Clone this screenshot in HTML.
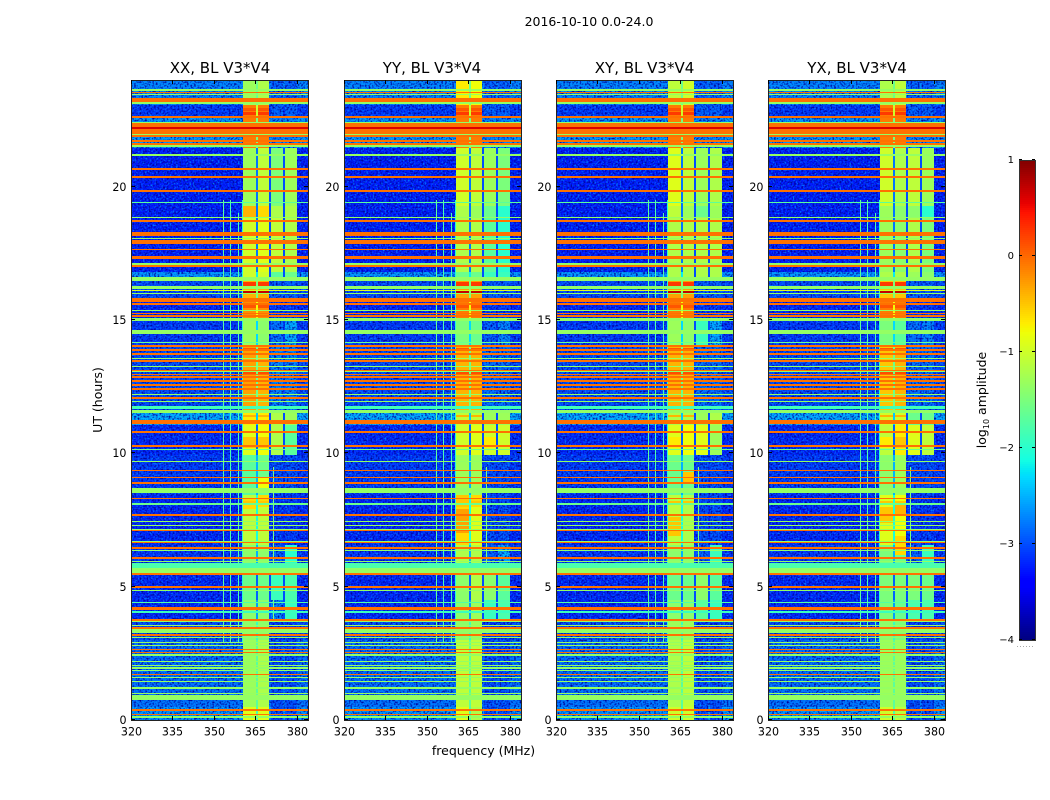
<!DOCTYPE html>
<html>
<head>
<meta charset="utf-8">
<title>2016-10-10 0.0-24.0</title>
<style>
html,body{margin:0;padding:0;background:#fff;width:1050px;height:800px;overflow:hidden}
svg{display:block}
text{font-family:"DejaVu Sans","Liberation Sans",sans-serif;fill:#000}
.cell{shape-rendering:crispEdges}
</style>
</head>
<body>
<svg id="fig" xmlns="http://www.w3.org/2000/svg" width="1050" height="800" viewBox="0 0 1050 800">
  <defs>
    <filter id="speckleLight" x="0" y="0" width="100%" height="100%" color-interpolation-filters="sRGB">
      <feTurbulence type="fractalNoise" baseFrequency="0.6" numOctaves="1" seed="4"/>
      <feColorMatrix type="matrix" values="0 0 0 0 0  0 0 0 0 0.55  0 0 0 0 1  3.2 0 0 0 -1.55"/>
    </filter>
    <filter id="speckleDark" x="0" y="0" width="100%" height="100%" color-interpolation-filters="sRGB">
      <feTurbulence type="fractalNoise" baseFrequency="0.55" numOctaves="1" seed="11"/>
      <feColorMatrix type="matrix" values="0 0 0 0 0  0 0 0 0 0  0 0 0 0 0.6  0 3.2 0 0 -1.45"/>
    </filter>
  </defs>
  <text x="589" y="26" font-size="12.5" text-anchor="middle">2016-10-10 0.0-24.0</text>
  <text x="220" y="73" font-size="15" text-anchor="middle">XX, BL V3*V4</text>
  <text x="432" y="73" font-size="15" text-anchor="middle">YY, BL V3*V4</text>
  <text x="644.5" y="73" font-size="15" text-anchor="middle">XY, BL V3*V4</text>
  <text x="857" y="73" font-size="15" text-anchor="middle">YX, BL V3*V4</text>
  <text transform="translate(102,400) rotate(-90)" font-size="12.5" text-anchor="middle">UT (hours)</text>
  <text x="483.5" y="755" font-size="12.5" text-anchor="middle">frequency (MHz)</text>
  <text transform="translate(986,400) rotate(-90)" font-size="12.5" text-anchor="middle">log<tspan font-size="8" dy="3">10</tspan><tspan dy="-3"> amplitude</tspan></text>
  <g id="panels"></g>
  <g id="colorbar"></g>
  <line x1="1017" y1="646.5" x2="1035" y2="646.5" stroke="#aaa" stroke-width="1" stroke-dasharray="1 2"/>
</svg>
<script>
// ---- axis tick labels ----
const freqTicks = [320, 335, 350, 365, 380];
const hourTicks = [0, 5, 10, 15, 20];
const colorbarTicks = [-4, -3, -2, -1, 0, 1];

// ---- time blocks (UT hours, edges) ----
const blockEdges = [0, 0.49, 3, 3.75, 4.5, 5.44, 6.56, 8.44, 9.94, 11.06, 11.63, 14.06, 15.08, 15.75, 16.58, 16.8, 18.83, 19.28, 21.45, 22.65, 23.06, 24];

// ---- log10 amplitude of the quiet background and of the gaps between bands, per block ----
const backgroundLevels = [-2.6, -2.8, -3.0, -3.2, -3.2, -3.1, -3.2, -3.1, -3.2, -2.5, -3.0, -3.1, -3.2, -3.0, -2.6, -3.25, -3.25, -3.25, -2.6, -3.1, -2.7];
const gapLevels = [-1.8, -1.7, -1.9, -2.6, -2.9, -2.5, -2.1, -2.5, -2.9, -2.4, -1.6, -2.3, -0.8, -1.5, -2.2, -2.8, -2.8, -2.8, -1.5, -1, -1.6];

// ---- band edges (MHz): A, B, C, D ----
const bandEdges = [[360.5, 365.2], [365.9, 370], [370.7, 375], [375.7, 380]];
const gapEdges = [[365.2, 365.9], [370, 370.7], [375, 375.7]];

// ---- band levels per block: [A, B, C, D] ----
const levelsXX = [[-0.9,-0.9,-3.0,-3.0],[-1.3,-1.2,-3.0,-3.0],[-1.4,-1.4,-3.1,-3.1],[-1.4,-1.4,-2.7,-1.9],[-1.6,-1.6,-1.9,-1.8],[-1.4,-1.4,-2.9,-2.0],[-1.1,-1.1,-3.1,-3.1],[-1.7,-1.6,-3.0,-3.0],[-0.9,-0.8,-1.2,-1.7],[-0.7,-0.7,-1.2,-1.3],[-0.3,-0.4,-2.7,-2.7],[-1.3,-1.4,-2.8,-2.5],[-0.2,-0.2,-3.1,-3.1],[-0.4,-0.4,-2.9,-2.9],[-1.0,-1.0,-1.7,-1.6],[-1.0,-0.9,-1.1,-1.2],[-0.4,-0.6,-1.2,-1.2],[-1.3,-1.1,-1.5,-1.3],[-0.1,-0.1,-2.7,-2.7],[-0.1,-0.1,-2.9,-2.9],[-1.3,-1.2,-2.9,-2.9]];
const levelsYY = [[-0.9,-1.2,-3.0,-3.0],[-1.1,-1.1,-3.0,-3.0],[-1.4,-1.3,-3.1,-3.1],[-1.4,-1.3,-1.9,-1.8],[-1.4,-1.2,-1.4,-1.7],[-1.2,-1.2,-2.9,-2.5],[-0.6,-0.9,-3.0,-3.0],[-1.3,-1.3,-3.0,-3.0],[-1.0,-0.9,-1.0,-1.0],[-1.1,-1.1,-1.3,-1.3],[-0.4,-0.4,-2.8,-2.8],[-1.5,-1.6,-2.9,-2.7],[-0.1,-0.1,-3.1,-3.1],[-0.3,-0.3,-2.9,-2.9],[-1.6,-1.6,-1.9,-1.9],[-1.2,-1.2,-1.7,-2.0],[-1.2,-1.3,-1.6,-2.0],[-1.0,-1.1,-1.3,-1.5],[-0.1,-0.1,-2.7,-2.7],[-0.1,-0.1,-2.9,-2.9],[-0.7,-0.8,-2.9,-2.9]];
const levelsXY = [[-1.0,-1.0,-3.0,-3.0],[-1.2,-1.1,-3.0,-3.0],[-1.3,-1.3,-3.1,-3.1],[-1.4,-1.4,-1.7,-1.9],[-1.6,-1.6,-1.4,-1.7],[-1.4,-1.4,-2.9,-1.9],[-1.1,-1.2,-3.0,-3.0],[-1.6,-1.6,-3.0,-3.0],[-0.9,-0.8,-0.9,-1.3],[-1.2,-1.2,-1.3,-1.2],[-0.4,-0.4,-2.8,-2.8],[-1.3,-1.4,-1.9,-2.5],[-0.1,-0.1,-3.1,-3.1],[-0.3,-0.3,-2.9,-2.9],[-1.2,-1.2,-1.2,-1.2],[-1.2,-1.2,-1.2,-1.2],[-1.1,-1.3,-1.6,-1.3],[-0.9,-1.1,-1.3,-1.2],[-0.1,-0.1,-2.7,-2.7],[-0.1,-0.1,-2.9,-2.9],[-1.1,-1.0,-2.9,-2.9]];
const levelsYX = [[-1.0,-1.1,-3.0,-3.0],[-1.3,-1.3,-3.0,-3.0],[-1.4,-1.5,-3.1,-3.1],[-1.5,-1.6,-1.8,-1.8],[-1.5,-1.5,-1.5,-1.6],[-1.5,-1.6,-2.9,-1.9],[-0.9,-0.8,-3.1,-3.1],[-1.4,-1.3,-3.0,-3.0],[-1.1,-0.7,-0.9,-1.1],[-1.0,-1.0,-1.6,-1.6],[-0.5,-0.4,-2.8,-2.8],[-1.5,-1.7,-2.8,-2.7],[-0.1,-0.1,-3.1,-3.1],[-0.5,-0.5,-2.9,-2.9],[-1.2,-1.2,-1.3,-1.4],[-1.3,-1.4,-1.2,-1.5],[-1.3,-1.4,-1.4,-2.0],[-1.0,-1.2,-1.1,-1.3],[-0.1,-0.1,-2.7,-2.7],[-0.1,-0.1,-2.9,-2.9],[-1.2,-1.1,-2.9,-2.9]];
const panelLevels = [levelsXX, levelsYY, levelsXY, levelsYX];

// ---- brighter patches inside a band: [band index, start hour, end hour, log10 amplitude] ----
const patchesXX = [[0,7.9,8.3,-0.6],[1,8.0,8.44,-0.6],[1,8.7,9.1,-0.8],[0,10.2,10.6,-0.5],[1,10.2,10.6,-0.5]];
const patchesYY = [[0,7.0,7.9,-0.3],[0,8.0,8.44,-0.5],[1,8.0,8.44,-0.6],[2,10.2,10.6,-0.7]];
const patchesXY = [[0,6.9,7.6,-0.5],[1,8.9,9.3,-0.5],[0,10.2,10.6,-0.7],[1,10.2,10.7,-0.8]];
const patchesYX = [[0,7.4,8.0,-0.5],[1,7.7,8.1,-0.4],[1,6.2,6.9,-0.6],[0,10.2,10.6,-0.7],[1,10.2,10.6,-0.5]];
const panelPatches = [patchesXX, patchesYY, patchesXY, patchesYX];

// ---- broadband interference stripes: [UT hour, duration hours, log10 amplitude] ----
const rfiStripes = [
[0.11,0.07,-1.35],[0.19,0.04,-0.05],[0.375,0.04,-0.05],[0.79,0.11,-1.35],[0.9,0.04,-1.35],[1.01,0.04,-1.35],[1.2,0.04,-1.35],[1.43,0.04,-1.35],[1.58,0.04,-1.35],[1.69,0.04,-0.05],[1.84,0.04,-1.35],[1.95,0.04,-1.35],[2.06,0.04,-1.35],[2.18,0.04,-1.35],
[2.45,0.07,-1.35],[2.53,0.05,-0.05],[2.63,0.04,-0.05],[2.78,0.04,-1.35],[2.89,0.04,-1.35],[3.08,0.04,-1.35],[3.19,0.05,-0.05],[3.33,0.17,-1.35],[3.45,0.04,-0.05],[3.56,0.04,-1.35],[3.68,0.04,-1.35],[3.75,0.04,-0.05],
[4.05,0.04,-1.9],[4.13,0.04,-0.05],[4.2,0.04,-0.05],[4.42,0.04,-1.75],[4.84,0.04,-1.35],[4.99,0.05,-0.05],[5.48,0.07,-0.05],[5.6,0.19,-1.35],[5.81,0.19,-1.8],[5.96,0.04,-1.35],[6.07,0.07,-0.05],[6.34,0.04,-1.35],[6.45,0.04,-0.05],[6.64,0.04,-0.05],[6.71,0.04,-1.35],
[7.09,0.04,-0.05],[7.16,0.04,-1.35],[7.28,0.04,-1.35],[7.46,0.04,-1.35],[7.69,0.05,-0.05],[8.1,0.04,-1.6],[8.29,0.04,-0.05],[8.59,0.19,-1.35],[8.9,0.08,-0.05],[9.11,0.04,-0.05],[9.34,0.04,-0.05],[9.68,0.04,-1.35],
[10.16,0.04,-1.6],[10.27,0.05,-0.05],[10.8,0.05,-0.05],[11.18,0.15,-0.05],[11.57,0.11,-1.35],[11.72,0.11,-1.85],[11.93,0.04,-1.35],[12.07,0.05,-0.05],[12.22,0.04,-1.35],[12.41,0.05,-0.05],[12.56,0.05,-0.05],[12.71,0.05,-0.05],[12.86,0.05,-0.05],[12.97,0.04,-0.05],[13.07,0.04,-1.35],[13.12,0.04,-0.05],[13.27,0.04,-1.35],[13.46,0.07,-0.05],[13.57,0.04,-1.35],[13.72,0.05,-0.05],[13.87,0.05,-0.05],[14.02,0.05,-0.05],[14.14,0.04,-1.6],
[14.55,0.15,-1.35],[15.02,0.13,-1.35],[15.15,0.04,-0.05],[15.26,0.04,-0.05],[15.34,0.04,-1.35],[15.6,0.04,-0.05],[15.75,0.15,-0.05],[16.0,0.05,-1.35],[16.09,0.04,-0.9],[16.22,0.11,-1.35],[16.54,0.15,-1.35],
[17.02,0.07,-0.05],[17.1,0.04,-1.35],[17.36,0.11,-0.05],[17.66,0.04,-0.05],[17.92,0.13,-0.05],[18.04,0.04,-1.35],[18.22,0.15,-0.05],[18.71,0.05,-0.05],[18.83,0.04,-1.35],[19.39,0.04,-1.7],[19.84,0.05,-0.05],[20.36,0.05,-0.05],[20.66,0.05,-0.05],[21.19,0.05,-1.35],
[21.53,0.11,-1.35],[21.6,0.04,-0.05],[21.71,0.05,-0.05],[22.14,0.57,-0.05],[21.97,0.04,-1.35],[22.2,0.04,0.6],[22.42,0.04,-1.35],[22.62,0.09,-0.05],[23.14,0.11,-1.35],[23.22,0.08,-0.05],[23.3,0.07,-0.05],[23.44,0.04,-1.35],[23.53,0.04,-0.05],[23.62,0.07,-1.35]
];

// ---- stripes seen only inside bands A and B: [UT hour, duration hours, log10 amplitude] ----
const bandStripes = [[8.15,0.12,-0.5],[11.4,0.1,-0.4],[13.0,0.08,0.15],[13.9,0.08,0.1],[15.52,0.12,0.1],[16.05,0.1,0.7],[16.35,0.12,0.25],[22.75,0.1,0.25],[22.9,0.1,0.1]];

// ---- narrow vertical lines: [MHz, start hour, end hour, log10 amplitude] ----
const verticalLines = [[353.3,2.9,19.5,-1.7],[355.8,2.9,19.5,-1.8],[358.7,2.9,19.0,-1.8],[360.1,2.9,19.5,-2.0],[371.3,3.7,9.5,-1.5],[371.3,17,18.6,-1.5]];

// ---- axis ranges ----
const panelLefts = [131, 344, 556, 768];
const panelWidth = 177;
const plotTop = 80;
const plotBottom = 720;
const freqMin = 320;
const freqMax = 384;
const hourMax = 24;
const cbarLeft = 1019;
const cbarRight = 1035;
const cbarTop = 160;
const cbarBottom = 640;
const cbarMin = -4;
const cbarMax = 1;
const quietThreshold = -2.2;

const NS = 'http://www.w3.org/2000/svg';

function interp(t, pts) {
  for (let i = 1; i < pts.length; i++) {
    if (t <= pts[i][0]) {
      const a = pts[i - 1], b = pts[i];
      return a[1] + (b[1] - a[1]) * (t - a[0]) / (b[0] - a[0]);
    }
  }
  return pts[pts.length - 1][1];
}
function jet(level) {
  const t = Math.max(0, Math.min(1, (level - cbarMin) / (cbarMax - cbarMin)));
  const r = interp(t, [[0,0],[0.35,0],[0.66,1],[0.89,1],[1,0.5]]);
  const g = interp(t, [[0,0],[0.125,0],[0.375,1],[0.64,1],[0.91,0],[1,0]]);
  const b = interp(t, [[0,0.5],[0.11,1],[0.34,1],[0.65,0],[1,0]]);
  return 'rgb(' + Math.round(r * 255) + ',' + Math.round(g * 255) + ',' + Math.round(b * 255) + ')';
}
function xScale(mhz, left) { return left + (mhz - freqMin) / (freqMax - freqMin) * panelWidth; }
function yScale(hour) { return plotBottom - hour / hourMax * (plotBottom - plotTop); }
function cbarScale(level) { return cbarBottom - (level - cbarMin) / (cbarMax - cbarMin) * (cbarBottom - cbarTop); }

function cell(parent, name, x0, x1, y0, y1, fill) {
  const px0 = Math.round(x0), py0 = Math.round(y0);
  const px1 = Math.max(Math.round(x1), px0 + 1), py1 = Math.max(Math.round(y1), py0 + 1);
  const el = document.createElementNS(NS, 'rect');
  
  
  el.setAttribute('class', 'cell');
  el.setAttribute('x', px0);
  el.setAttribute('y', py0);
  el.setAttribute('width', px1 - px0);
  el.setAttribute('height', py1 - py0);
  el.setAttribute('fill', fill);
  parent.appendChild(el);
  return el;
}
function tick(parent, name, x1, y1, x2, y2) {
  const el = document.createElementNS(NS, 'line');
  
  
  el.setAttribute('x1', x1);
  el.setAttribute('y1', y1);
  el.setAttribute('x2', x2);
  el.setAttribute('y2', y2);
  el.setAttribute('stroke', '#000');
  el.setAttribute('stroke-width', '1');
  parent.appendChild(el);
}
function label(parent, name, x, y, anchor, size, content) {
  const el = document.createElementNS(NS, 'text');
  
  
  el.setAttribute('x', x);
  el.setAttribute('y', y);
  el.setAttribute('text-anchor', anchor);
  el.setAttribute('font-size', size);
  el.textContent = content;
  parent.appendChild(el);
}

const panelsRoot = document.getElementById('panels');
panelLefts.forEach(function (left, p) {
  const g = document.createElementNS(NS, 'g');
  
  
  panelsRoot.appendChild(g);
  const right = left + panelWidth;
  const levels = panelLevels[p];

  // quiet background per time block
  for (let b = 0; b < backgroundLevels.length; b++) {
    cell(g, 'background-cell', left, right, yScale(blockEdges[b + 1]), yScale(blockEdges[b]), jet(backgroundLevels[b]));
    // quiet bands sit under the speckle
    bandEdges.forEach(function (edge, k) {
      if (levels[b][k] <= quietThreshold) {
        cell(g, 'quiet-band-cell', xScale(edge[0], left), xScale(edge[1], left), yScale(blockEdges[b + 1]), yScale(blockEdges[b]), jet(levels[b][k]));
      }
    });
  }
  // speckle texture
  ['speckleLight', 'speckleDark'].forEach(function (id) {
    const n = document.createElementNS(NS, 'rect');
    
    
    n.setAttribute('x', left);
    n.setAttribute('y', plotTop);
    n.setAttribute('width', panelWidth);
    n.setAttribute('height', plotBottom - plotTop);
    n.setAttribute('filter', 'url(#' + id + ')');
    g.appendChild(n);
  });
  // vertical narrow lines
  verticalLines.forEach(function (v) {
    const x = xScale(v[0], left);
    cell(g, 'vertical-rfi-line', x, x + 1, yScale(v[2]), yScale(v[1]), jet(v[3]));
  });
  // active frequency bands per block
  for (let b = 0; b < backgroundLevels.length; b++) {
    const y0 = yScale(blockEdges[b + 1]), y1 = yScale(blockEdges[b]);
    bandEdges.forEach(function (edge, k) {
      if (levels[b][k] > quietThreshold) {
        cell(g, 'band-cell', xScale(edge[0], left), xScale(edge[1], left), y0, y1, jet(levels[b][k]));
      }
    });
    gapEdges.forEach(function (edge, k) {
      const active = levels[b][2] > quietThreshold || levels[b][3] > quietThreshold;
      if (k === 0 || active) {
        const gapLevel = k === 0 ? gapLevels[b] : -3;
        cell(g, 'band-gap-cell', xScale(edge[0], left), xScale(edge[1], left), y0, y1, jet(gapLevel));
      }
    });
  }
  // brighter patches
  panelPatches[p].forEach(function (q) {
    const edge = bandEdges[q[0]];
    cell(g, 'band-patch', xScale(edge[0], left), xScale(edge[1], left), yScale(q[2]), yScale(q[1]), jet(q[3]));
  });
  // band-only stripes
  bandStripes.forEach(function (s) {
    const y0 = yScale(s[0] + s[1] / 2), y1 = yScale(s[0] - s[1] / 2);
    cell(g, 'band-stripe', xScale(bandEdges[0][0], left), xScale(bandEdges[0][1], left), y0, y1, jet(s[2]));
    cell(g, 'band-stripe', xScale(bandEdges[1][0], left), xScale(bandEdges[1][1], left), y0, y1, jet(s[2]));
  });
  // broadband stripes
  rfiStripes.forEach(function (s) {
    cell(g, 'rfi-stripe', left, right, yScale(s[0] + s[1] / 2), yScale(s[0] - s[1] / 2), jet(s[2]));
  });
  // frame
  const frame = document.createElementNS(NS, 'rect');
  
  
  frame.setAttribute('x', left + 0.5);
  frame.setAttribute('y', plotTop + 0.5);
  frame.setAttribute('width', panelWidth);
  frame.setAttribute('height', plotBottom - plotTop);
  frame.setAttribute('fill', 'none');
  frame.setAttribute('stroke', '#222');
  frame.setAttribute('stroke-width', '1');
  g.appendChild(frame);
  // ticks and labels
  freqTicks.forEach(function (f) {
    const x = Math.round(xScale(f, left)) + 0.5;
    tick(g, 'x-tick', x, plotBottom, x, plotBottom - 4);
    tick(g, 'x-tick-top', x, plotTop, x, plotTop + 4);
    label(g, 'x-tick-label', x, plotBottom + 15.5, 'middle', 11.1, String(f));
  });
  hourTicks.forEach(function (h) {
    const y = Math.round(yScale(h)) - 0.5;
    tick(g, 'y-tick', left, y, left + 4, y);
    tick(g, 'y-tick-right', right, y, right - 4, y);
    label(g, 'y-tick-label', left - 4.5, y + 4.5, 'end', 11.1, String(h));
  });
});

// colorbar
const cbarRoot = document.getElementById('colorbar');
for (let py = cbarTop; py < cbarBottom; py += 2) {
  const lv = cbarMax - (py + 1 - cbarTop) / (cbarBottom - cbarTop) * (cbarMax - cbarMin);
  cell(cbarRoot, 'colorbar-step', cbarLeft, cbarRight, py, py + 2, jet(lv));
}
const cbarFrame = document.createElementNS(NS, 'rect');


cbarFrame.setAttribute('x', cbarLeft + 0.5);
cbarFrame.setAttribute('y', cbarTop + 0.5);
cbarFrame.setAttribute('width', cbarRight - cbarLeft);
cbarFrame.setAttribute('height', cbarBottom - cbarTop);
cbarFrame.setAttribute('fill', 'none');
cbarFrame.setAttribute('stroke', '#333');
cbarRoot.appendChild(cbarFrame);
colorbarTicks.forEach(function (t) {
  const y = Math.round(cbarScale(t)) - 0.5;
  tick(cbarRoot, 'colorbar-tick', cbarLeft, y, cbarLeft + 3, y);
  tick(cbarRoot, 'colorbar-tick-right', cbarRight, y, cbarRight - 3, y);
  label(cbarRoot, 'colorbar-tick-label', cbarLeft - 5, y + 3.5, 'end', 10, String(t).replace('-', '\u2212'));
});
</script>
</body>
</html>
